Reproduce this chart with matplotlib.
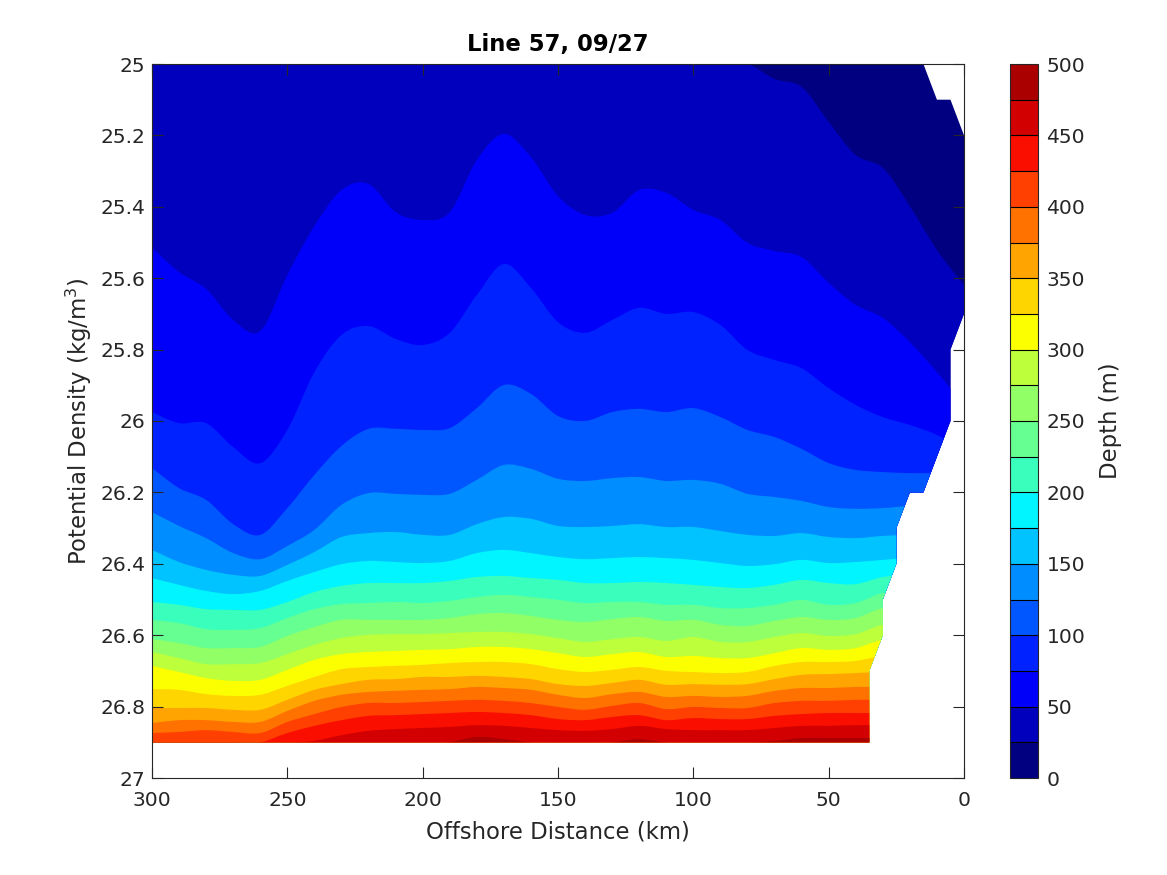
import numpy as np
import matplotlib
matplotlib.use("Agg")
import matplotlib.pyplot as plt
from matplotlib.cm import ScalarMappable
from matplotlib.colors import BoundaryNorm, ListedColormap
from matplotlib.patches import PathPatch, Polygon
from matplotlib.path import Path

# offshore distance of each section station (km)
distance = np.arange(300, -1, -10)

# depth contour levels (m)
levels = np.arange(0, 501, 25)

# potential density at which each depth level sits, one value per station
depth_25 = [25.0] * 23 + [25.042, 25.064, 25.162, 25.255, 25.291, 25.398, 25.521, 25.619]
depth_50 = [25.515, 25.583, 25.630, 25.717, 25.748, 25.591, 25.454, 25.353, 25.336, 25.415, 25.437, 25.415, 25.269, 25.196, 25.261, 25.370, 25.423, 25.417, 25.353, 25.361, 25.409, 25.437, 25.501, 25.524, 25.541, 25.613, 25.675, 25.711, 25.779, 25.863, 25.955]
depth_75 = [25.975, 26.006, 26.006, 26.073, 26.118, 26.025, 25.863, 25.759, 25.734, 25.770, 25.787, 25.753, 25.647, 25.560, 25.627, 25.723, 25.753, 25.717, 25.683, 25.700, 25.695, 25.731, 25.801, 25.829, 25.852, 25.908, 25.955, 25.989, 26.011, 26.039, 26.081]
depth_100 = [26.132, 26.188, 26.221, 26.289, 26.319, 26.244, 26.151, 26.070, 26.022, 26.022, 26.025, 26.020, 25.964, 25.899, 25.924, 25.986, 26.000, 25.975, 25.966, 25.975, 25.964, 25.989, 26.025, 26.045, 26.078, 26.118, 26.137, 26.143, 26.146, 26.146, 26.146]
depth_125 = [26.255, 26.294, 26.328, 26.370, 26.387, 26.350, 26.305, 26.235, 26.202, 26.204, 26.207, 26.204, 26.165, 26.123, 26.134, 26.162, 26.168, 26.160, 26.157, 26.168, 26.165, 26.176, 26.204, 26.213, 26.224, 26.241, 26.246, 26.244, 26.238, 26.238, 26.238]
depth_150 = [26.361, 26.395, 26.417, 26.431, 26.434, 26.403, 26.367, 26.325, 26.314, 26.311, 26.319, 26.319, 26.289, 26.269, 26.274, 26.294, 26.297, 26.294, 26.289, 26.297, 26.297, 26.308, 26.319, 26.322, 26.314, 26.325, 26.328, 26.322, 26.319, 26.319, 26.319]
depth_175 = [26.440, 26.459, 26.476, 26.485, 26.476, 26.448, 26.423, 26.401, 26.392, 26.395, 26.398, 26.392, 26.370, 26.361, 26.370, 26.381, 26.387, 26.384, 26.381, 26.384, 26.389, 26.398, 26.406, 26.401, 26.389, 26.398, 26.395, 26.389, 26.384, 26.384, 26.384]
depth_200 = [26.507, 26.515, 26.527, 26.529, 26.529, 26.507, 26.479, 26.462, 26.454, 26.454, 26.454, 26.448, 26.437, 26.434, 26.440, 26.445, 26.454, 26.454, 26.451, 26.454, 26.459, 26.465, 26.468, 26.459, 26.445, 26.454, 26.457, 26.437, 26.431, 26.431, 26.431]
depth_225 = [26.557, 26.566, 26.583, 26.585, 26.580, 26.552, 26.527, 26.513, 26.510, 26.507, 26.510, 26.504, 26.493, 26.487, 26.493, 26.501, 26.510, 26.507, 26.507, 26.515, 26.515, 26.524, 26.524, 26.515, 26.501, 26.515, 26.510, 26.482, 26.482, 26.482, 26.482]
depth_250 = [26.611, 26.622, 26.636, 26.636, 26.633, 26.602, 26.577, 26.557, 26.557, 26.557, 26.557, 26.552, 26.541, 26.538, 26.546, 26.557, 26.563, 26.555, 26.549, 26.560, 26.557, 26.571, 26.574, 26.560, 26.549, 26.557, 26.552, 26.524, 26.524, 26.524, 26.524]
depth_275 = [26.647, 26.664, 26.681, 26.681, 26.678, 26.653, 26.627, 26.608, 26.599, 26.597, 26.597, 26.594, 26.591, 26.591, 26.597, 26.608, 26.619, 26.611, 26.605, 26.616, 26.605, 26.619, 26.619, 26.605, 26.594, 26.602, 26.597, 26.571, 26.571, 26.571, 26.571]
depth_300 = [26.686, 26.703, 26.720, 26.728, 26.725, 26.697, 26.669, 26.653, 26.647, 26.644, 26.641, 26.639, 26.633, 26.633, 26.639, 26.650, 26.661, 26.653, 26.647, 26.661, 26.658, 26.664, 26.664, 26.650, 26.636, 26.641, 26.636, 26.613, 26.613, 26.613, 26.613]
depth_325 = [26.751, 26.753, 26.765, 26.770, 26.767, 26.742, 26.717, 26.695, 26.689, 26.686, 26.683, 26.678, 26.675, 26.675, 26.681, 26.695, 26.703, 26.697, 26.689, 26.700, 26.703, 26.706, 26.703, 26.686, 26.675, 26.675, 26.672, 26.658, 26.658, 26.658, 26.658]
depth_350 = [26.804, 26.804, 26.804, 26.809, 26.809, 26.781, 26.753, 26.737, 26.725, 26.723, 26.717, 26.717, 26.714, 26.717, 26.723, 26.737, 26.742, 26.734, 26.725, 26.739, 26.737, 26.739, 26.737, 26.723, 26.711, 26.709, 26.706, 26.703, 26.703, 26.703, 26.703]
depth_375 = [26.846, 26.838, 26.838, 26.843, 26.843, 26.812, 26.784, 26.767, 26.759, 26.756, 26.753, 26.751, 26.745, 26.748, 26.753, 26.767, 26.776, 26.765, 26.759, 26.773, 26.770, 26.773, 26.770, 26.756, 26.748, 26.748, 26.745, 26.745, 26.745, 26.745, 26.745]
depth_400 = [26.874, 26.871, 26.866, 26.871, 26.874, 26.843, 26.821, 26.801, 26.790, 26.790, 26.787, 26.784, 26.781, 26.784, 26.790, 26.801, 26.809, 26.798, 26.790, 26.807, 26.801, 26.804, 26.804, 26.790, 26.784, 26.784, 26.781, 26.781, 26.781, 26.781, 26.781]
depth_425 = [26.9, 26.9, 26.9, 26.9, 26.9, 26.874, 26.854, 26.838, 26.826, 26.824, 26.821, 26.818, 26.815, 26.818, 26.824, 26.835, 26.838, 26.829, 26.824, 26.838, 26.832, 26.835, 26.835, 26.826, 26.821, 26.818, 26.818, 26.818, 26.818, 26.818, 26.818]
depth_450 = [26.9, 26.9, 26.9, 26.9, 26.9, 26.9, 26.896, 26.880, 26.868, 26.863, 26.860, 26.857, 26.852, 26.854, 26.860, 26.866, 26.868, 26.863, 26.854, 26.863, 26.866, 26.866, 26.866, 26.860, 26.854, 26.854, 26.852, 26.852, 26.852, 26.852, 26.852]
depth_475 = [26.9] * 11 + [26.899, 26.885, 26.891, 26.9, 26.9, 26.9, 26.9, 26.891, 26.9, 26.9, 26.9, 26.9, 26.896, 26.888, 26.888, 26.888, 26.888, 26.888, 26.888, 26.888]

depth_curves = [depth_25, depth_50, depth_75, depth_100, depth_125, depth_150, depth_175,
                depth_200, depth_225, depth_250, depth_275, depth_300, depth_325, depth_350,
                depth_375, depth_400, depth_425, depth_450, depth_475]

# inshore edge of the sampled area
edge_distance = [300, 15, 10, 5, 0, 0, 5, 5, 15, 20, 25, 25, 30, 30, 35, 35, 300]
edge_density = [25.0, 25.0, 25.1, 25.1, 25.2, 25.7, 25.8, 26.0, 26.2, 26.2, 26.3, 26.4, 26.5, 26.6, 26.7, 26.9, 26.9]

x_ticks = [300, 250, 200, 150, 100, 50, 0]
y_ticks = [25, 25.2, 25.4, 25.6, 25.8, 26, 26.2, 26.4, 26.6, 26.8, 27]
y_tick_labels = ["25", "25.2", "25.4", "25.6", "25.8", "26", "26.2", "26.4", "26.6", "26.8", "27"]
cbar_ticks = np.arange(0, 501, 50)

text_color = "#262626"
tick_size = 14.6
label_size = 16.4

# jet, touched up where the reference bar differs
jet = plt.get_cmap("jet", len(levels) - 1)
band_colors = [jet(i) for i in range(jet.N)]
band_colors[7] = "#00f5ff"
band_colors[12] = "#fbff00"
band_colors[18] = "#d20000"
band_colors[19] = "#aa0000"
cmap = ListedColormap(band_colors)
norm = BoundaryNorm(levels, cmap.N)


def band_path(x, top, bottom):
    # smooth curve through the values (Catmull-Rom as cubic segments), closed along the bottom
    pts = np.column_stack([x, top])
    verts = [pts[0]]
    codes = [Path.MOVETO]
    for i in range(len(pts) - 1):
        before = pts[max(i - 1, 0)]
        after = pts[min(i + 2, len(pts) - 1)]
        verts += [pts[i] + (pts[i + 1] - before) / 6, pts[i + 1] - (after - pts[i]) / 6, pts[i + 1]]
        codes += [Path.CURVE4] * 3
    verts += [(x[-1], bottom), (x[0], bottom), pts[0]]
    codes += [Path.LINETO, Path.LINETO, Path.CLOSEPOLY]
    return Path(verts, codes)


fig = plt.figure(figsize=(11.67, 8.75), dpi=100)
ax = fig.add_axes([152 / 1167, 1 - 778 / 875, 812 / 1167, 714 / 875])
cax = fig.add_axes([1010 / 1167, 1 - 778 / 875, 28 / 1167, 714 / 875])

clip = Polygon(np.column_stack([edge_distance, edge_density]), closed=True, transform=ax.transData)

# paint top down, every band runs past the floor and the edge polygon cuts it
tops = [[25.0] * len(distance)] + depth_curves
for i, top in enumerate(tops):
    band = PathPatch(band_path(distance, top, 27.0), facecolor=band_colors[i], edgecolor="none", linewidth=0)
    ax.add_patch(band)
    band.set_clip_path(clip)

ax.set_xlim(300, 0)
ax.set_ylim(27, 25)
ax.set_xticks(x_ticks)
ax.set_yticks(y_ticks)
ax.set_yticklabels(y_tick_labels)
ax.tick_params(direction="in", length=8, width=0.8, top=True, right=True, colors=text_color, labelsize=tick_size)
ax.tick_params(axis="x", pad=9)
ax.tick_params(axis="y", pad=5)
for side in ax.spines.values():
    side.set_color(text_color)
    side.set_linewidth(0.8)

ax.set_xlabel("Offshore Distance (km)", fontsize=label_size, color=text_color, labelpad=8)
ax.set_ylabel("Potential Density (kg/m$^3$)", fontsize=label_size, color=text_color, labelpad=4.5)
ax.set_title("Line 57, 09/27", fontsize=label_size, fontweight="bold", color="black", pad=9)

sm = ScalarMappable(norm=norm, cmap=cmap)
cbar = fig.colorbar(sm, cax=cax, drawedges=True, ticks=cbar_ticks, spacing="proportional")
cbar.ax.minorticks_off()
cbar.dividers.set_color("black")
cbar.dividers.set_linewidth(0.8)
cbar.outline.set_edgecolor(text_color)
cbar.outline.set_linewidth(0.8)
cbar.ax.tick_params(length=0, labelsize=tick_size, colors=text_color, pad=6)
cbar.set_label("Depth (m)", fontsize=label_size, color=text_color, labelpad=10)

fig.savefig("out.png", dpi=100)
